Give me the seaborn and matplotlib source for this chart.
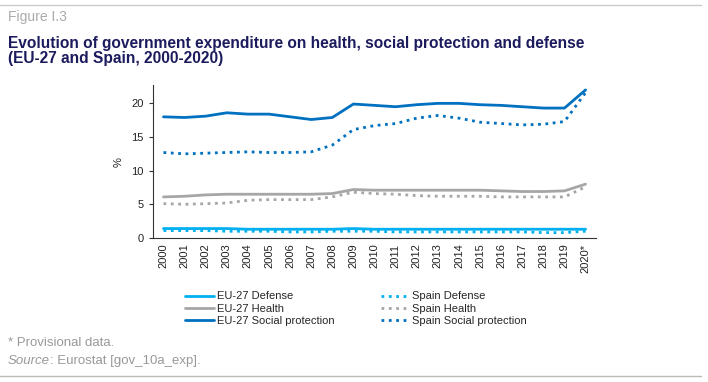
import numpy as np
import pandas as pd
import matplotlib
matplotlib.use("Agg")
import matplotlib.pyplot as plt
from matplotlib.lines import Line2D
import seaborn as sns

# Data (% of GDP)
years = ["2000", "2001", "2002", "2003", "2004", "2005", "2006", "2007", "2008", "2009",
         "2010", "2011", "2012", "2013", "2014", "2015", "2016", "2017", "2018", "2019", "2020*"]
eu_defense = [1.4, 1.4, 1.4, 1.4, 1.3, 1.3, 1.3, 1.3, 1.3, 1.4, 1.3, 1.3, 1.3, 1.3, 1.3, 1.3, 1.3, 1.3, 1.3, 1.3, 1.3]
eu_health = [6.1, 6.2, 6.4, 6.5, 6.5, 6.5, 6.5, 6.5, 6.6, 7.2, 7.1, 7.1, 7.1, 7.1, 7.1, 7.1, 7.0, 6.9, 6.9, 7.0, 8.0]
eu_social = [18.0, 17.9, 18.1, 18.6, 18.4, 18.4, 18.0, 17.6, 17.9, 19.9, 19.7, 19.5, 19.8, 20.0, 20.0, 19.8, 19.7, 19.5, 19.3, 19.3, 22.0]
es_defense = [1.1, 1.1, 1.1, 1.0, 1.0, 1.0, 0.9, 0.9, 1.0, 1.0, 1.0, 0.9, 0.9, 0.9, 0.9, 0.9, 0.9, 0.9, 0.8, 0.8, 1.0]
es_health = [5.1, 5.0, 5.1, 5.2, 5.6, 5.7, 5.7, 5.7, 6.1, 6.8, 6.6, 6.5, 6.3, 6.2, 6.2, 6.2, 6.1, 6.1, 6.1, 6.1, 7.6]
es_social = [12.7, 12.5, 12.6, 12.7, 12.8, 12.7, 12.7, 12.8, 13.8, 16.1, 16.7, 17.0, 17.8, 18.2, 17.8, 17.2, 17.0, 16.8, 16.9, 17.3, 21.6]

series = [
    ("EU-27 Defense", eu_defense, "#00b0f0", "-"),
    ("EU-27 Health", eu_health, "#a6a6a6", "-"),
    ("EU-27 Social protection", eu_social, "#0070c0", "-"),
    ("Spain Defense", es_defense, "#00b0f0", ":"),
    ("Spain Health", es_health, "#a6a6a6", ":"),
    ("Spain Social protection", es_social, "#0070c0", ":"),
]

sns.set_style("white")
plt.rcParams["font.family"] = ["Liberation Sans", "DejaVu Sans"]

fig = plt.figure(figsize=(7.08, 3.82), dpi=100)
ax = fig.add_axes([0.216, 0.377, 0.626, 0.40])

x = np.arange(len(years))
for name, vals, col, ls in series:
    sns.lineplot(x=x, y=vals, ax=ax, color=col, linestyle=ls,
                 linewidth=2.0, label=name)

ax.set_xlim(-0.5, len(years) - 0.5)
ax.set_ylim(0, 22.7)
ax.set_yticks([0, 5, 10, 15, 20])
ax.set_xticks(x)
ax.set_xticklabels(years, rotation=90, fontsize=8, color="#222222")
ax.set_xticks(np.arange(-0.5, len(years), 1), minor=True)
ax.tick_params(axis="x", which="major", length=0, pad=4)
ax.tick_params(axis="x", which="minor", length=4, width=0.8, color="#333333", direction="out")
ax.tick_params(axis="y", labelsize=8, labelcolor="#222222", length=3, width=0.8,
               color="#333333", direction="out", left=True)
ax.set_ylabel("%", fontsize=8, color="#222222", labelpad=6)
ax.set_xlabel("")
for s in ["top", "right"]:
    ax.spines[s].set_visible(False)
for s in ["left", "bottom"]:
    ax.spines[s].set_color("#333333")
    ax.spines[s].set_linewidth(0.8)

ax.legend(loc="upper left", bbox_to_anchor=(0.072, -0.35), ncol=2, frameon=False,
          fontsize=8, handlelength=2.6, handletextpad=0.25, columnspacing=4.2,
          labelspacing=0.22, borderaxespad=0, borderpad=0)

# header / footer
fig.add_artist(Line2D([0.0, 0.99], [0.987, 0.987], color="#cccccc", linewidth=1))
fig.add_artist(Line2D([0.0, 0.99], [0.016, 0.016], color="#bbbbbb", linewidth=1))
fig.text(0.011, 0.955, "Figure I.3", fontsize=10, color="#aaaaaa", va="center")
fig.text(0.011, 0.866, "Evolution of government expenditure on health, social protection and defense\n(EU-27 and Spain, 2000-2020)",
         fontsize=11.2, fontweight="bold", color="#1b1b5e", va="center", linespacing=1.0)
fig.text(0.011, 0.102, "* Provisional data.", fontsize=9.5, color="#999999", va="center")
src = fig.text(0.011, 0.055, "Source", fontsize=9.5, color="#999999", va="center", style="italic")
fig.canvas.draw()
bb = src.get_window_extent().transformed(fig.transFigure.inverted())
fig.text(bb.x1 + 0.001, 0.055, ": Eurostat [gov_10a_exp].", fontsize=9.5, color="#999999", va="center")

fig.savefig("out.png", dpi=100)
